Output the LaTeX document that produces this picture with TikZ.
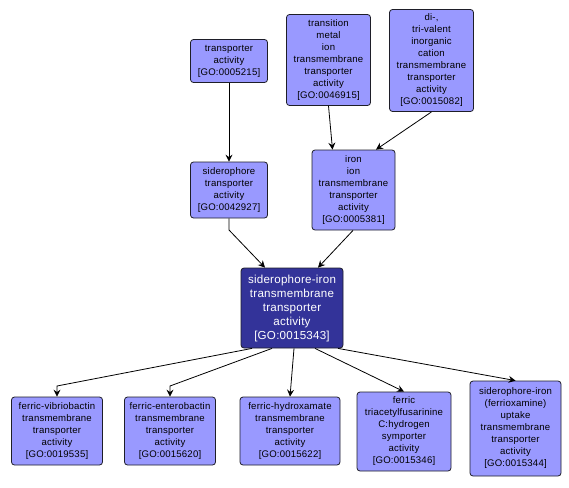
\documentclass[tikz,border=0pt]{standalone}
\usepackage{fontspec}
\newfontfamily\gofont[LetterSpace=2]{Liberation Sans}
\usetikzlibrary{arrows.meta}
\definecolor{golav}{RGB}{153,153,255}
\definecolor{gocen}{RGB}{51,51,153}
\definecolor{goedge}{RGB}{30,30,40}
\tikzset{
  gonode/.style={draw=goedge, line width=0.8pt, rounded corners=3pt, fill=golav,
    align=center, inner sep=1pt, font=\gofont\fontsize{9.6}{12}\selectfont, text=black},
  gomain/.style={gonode, fill=gocen, text=white, font=\gofont\fontsize{11.6}{14}\selectfont},
  goarr/.style={draw=black, line width=0.8pt, -{Stealth[length=7pt,width=7pt,inset=2.5pt]}}
}
\begin{document}
\begin{tikzpicture}[x=1pt,y=-1pt]
\useasboundingbox[fill=white] (0,0) rectangle (569,487);
\node[gonode, minimum width=77pt, minimum height=43pt] (ta) at (229,61) {transporter\\activity\\{[}GO:0005215{]}};
\node[gonode, minimum width=84pt, minimum height=91pt] (tm) at (328.5,60) {transition\\metal\\ion\\transmembrane\\transporter\\activity\\{[}GO:0046915{]}};
\node[gonode, minimum width=84pt, minimum height=102pt] (di) at (431.5,60.5) {di-,\\tri-valent\\inorganic\\cation\\transmembrane\\transporter\\activity\\{[}GO:0015082{]}};
\node[gonode, minimum width=77pt, minimum height=56pt] (sid) at (229,190) {siderophore\\transporter\\activity\\{[}GO:0042927{]}};
\node[gonode, minimum width=83pt, minimum height=80pt] (iron) at (353.5,190) {iron\\ion\\transmembrane\\transporter\\activity\\{[}GO:0005381{]}};
\node[gomain, minimum width=102pt, minimum height=80pt] (c) at (292,308) {siderophore-iron\\transmembrane\\transporter\\activity\\{[}GO:0015343{]}};
\node[gonode, minimum width=91pt, minimum height=68pt] (vib) at (57,431) {ferric-vibriobactin\\transmembrane\\transporter\\activity\\{[}GO:0019535{]}};
\node[gonode, minimum width=91pt, minimum height=68pt] (ent) at (170,431) {ferric-enterobactin\\transmembrane\\transporter\\activity\\{[}GO:0015620{]}};
\node[gonode, minimum width=100pt, minimum height=68pt] (hyd) at (290,431) {ferric-hydroxamate\\transmembrane\\transporter\\activity\\{[}GO:0015622{]}};
\node[gonode, minimum width=94pt, minimum height=79pt] (tri) at (404,431.5) {ferric\\triacetylfusarinine\\C:hydrogen\\symporter\\activity\\{[}GO:0015346{]}};
\node[gonode, minimum width=91pt, minimum height=95pt] (upt) at (515.5,428.5) {siderophore-iron\\(ferrioxamine)\\uptake\\transmembrane\\transporter\\activity\\{[}GO:0015344{]}};
\coordinate (bs) at (229,230);
\coordinate (bv) at (57,386);
\coordinate (be) at (170,386);
\draw[goarr] (ta.south) -- (sid.north);
\draw[goarr] (tm.south) -- ([xshift=-21pt]iron.north);
\draw[goarr] (di.south) -- ([xshift=22.5pt]iron.north);
\draw[goarr] (sid.south) -- (bs) -- ([xshift=-27pt]c.north);
\draw[goarr] ([xshift=-0.5pt]iron.south) -- ([xshift=26pt]c.north);
\draw[goarr] ([xshift=-40pt]c.south) -- (bv) -- (vib.north);
\draw[goarr] ([xshift=-20pt]c.south) -- (be) -- (ent.north);
\draw[goarr] ([xshift=2pt]c.south) -- (hyd.north);
\draw[goarr] ([xshift=23pt]c.south) -- (tri.north);
\draw[goarr] ([xshift=46pt]c.south) -- (upt.north);
\end{tikzpicture}
\end{document}
